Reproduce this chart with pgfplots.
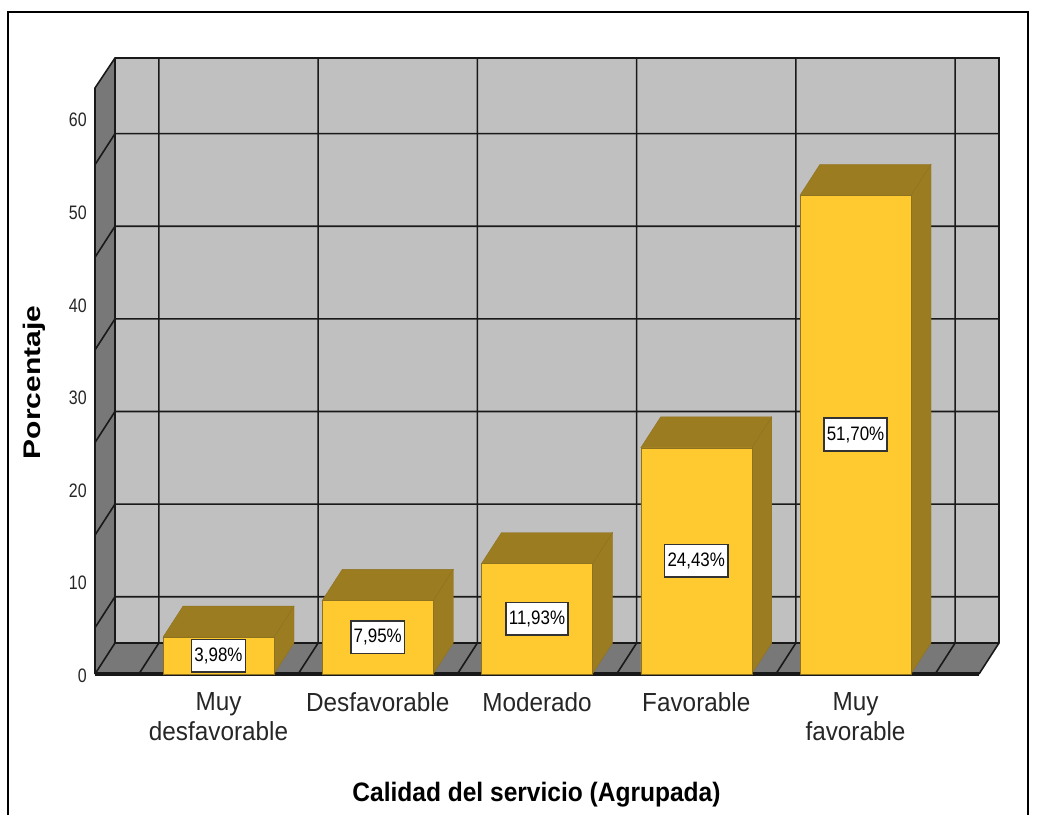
\documentclass[border=0pt]{standalone}
\usepackage{pgfplots}
\pgfplotsset{compat=1.18}
\usepackage{pgfplotstable}
\usepackage{fontspec}
\setmainfont{Liberation Sans}
\newfontfamily\ticksf[FakeStretch=0.82]{Liberation Sans}
\newfontfamily\valsf[FakeStretch=0.87]{Liberation Sans}
\newfontfamily\catsf[FakeStretch=0.93]{Liberation Sans}
\newfontfamily\xlabsf[FakeStretch=0.92]{Liberation Sans}
\newfontfamily\ylabsf[FakeStretch=1.25]{Liberation Sans}
\definecolor{wall}{HTML}{C0C0C0}
\definecolor{side}{HTML}{787878}
\definecolor{barf}{HTML}{FFCA2F}
\definecolor{bard}{HTML}{9C7C20}
\definecolor{barl}{HTML}{8F7220}
\pgfplotstableread{
x y
1 3.98
2 7.95
3 11.93
4 24.43
5 51.70
}\bardata
\begin{document}
\begin{tikzpicture}
\useasboundingbox (0,0) rectangle (778.5pt,611.25pt);
\draw[line width=1.2pt,black] (6pt,0) -- (6pt,602.25pt) -- (771pt,602.25pt) -- (771pt,0);
\begin{axis}[
  at={(71.25pt,105.75pt)},anchor=south west,
  scale only axis,width=663pt,height=439.5pt,
  xmin=0.2245,xmax=5.7755,ymin=0,ymax=63.283,
  clip=false,
  axis line style={draw=none},
  major tick length=0pt,
  tick style={draw=none},
  xtick={1,2,3,4,5},
  xticklabels={{Muy\\desfavorable},{Desfavorable},{Moderado},{Favorable},{Muy\\favorable}},
  ytick={0,10,20,30,40,50,60},
  /pgf/number format/assume math mode=true,
  y tick label style={font=\fontsize{14.6pt}{16pt}\selectfont\ticksf,text=black!85,anchor=east,xshift=-6pt,yshift=-1.4pt,inner sep=0pt},
  x tick label style={font=\fontsize{19.6pt}{22.5pt}\selectfont\catsf,text=black!85,align=center,anchor=north,yshift=-14pt,inner sep=0pt},
  xlabel={Calidad del servicio (Agrupada)},
  ylabel={Porcentaje},
  xlabel style={at={(axis description cs:0.4994,-0.2055)},anchor=center,inner sep=0pt,font=\fontsize{20pt}{22pt}\selectfont\bfseries\xlabsf},
  ylabel style={at={(axis description cs:-0.0685,0.4975)},anchor=center,inner sep=0pt,font=\fontsize{18pt}{22pt}\selectfont\bfseries\ylabsf},
]
% walls and floor
\addplot[fill=wall,draw=none] coordinates {(0.3501,3.348)(5.9011,3.348)(5.9011,66.52)(0.3501,66.52)} --cycle;
\addplot[fill=side,draw=none] coordinates {(0.2245,0)(0.3501,3.348)(0.3501,66.52)(0.2245,63.283)} --cycle;
\addplot[fill=side,draw=none] coordinates {(0.2245,0)(5.7755,0)(5.9011,3.348)(0.3501,3.348)} --cycle;
% horizontal grid: wall and back
\addplot[black!90,line width=1.2pt] coordinates {(0.2245,5)(0.3501,8.348)(5.9011,8.348)};
\addplot[black!90,line width=1.2pt] coordinates {(0.2245,15)(0.3501,18.348)(5.9011,18.348)};
\addplot[black!90,line width=1.2pt] coordinates {(0.2245,25)(0.3501,28.348)(5.9011,28.348)};
\addplot[black!90,line width=1.2pt] coordinates {(0.2245,35)(0.3501,38.348)(5.9011,38.348)};
\addplot[black!90,line width=1.2pt] coordinates {(0.2245,45)(0.3501,48.348)(5.9011,48.348)};
\addplot[black!90,line width=1.2pt] coordinates {(0.2245,55)(0.3501,58.348)(5.9011,58.348)};
% vertical grid: floor and back
\addplot[black!90,line width=1.2pt] coordinates {(0.5,0)(0.6256,3.348)(0.6256,66.52)};
\addplot[black!90,line width=1.2pt] coordinates {(1.5,0)(1.6256,3.348)(1.6256,66.52)};
\addplot[black!90,line width=1.2pt] coordinates {(2.5,0)(2.6256,3.348)(2.6256,66.52)};
\addplot[black!90,line width=1.2pt] coordinates {(3.5,0)(3.6256,3.348)(3.6256,66.52)};
\addplot[black!90,line width=1.2pt] coordinates {(4.5,0)(4.6256,3.348)(4.6256,66.52)};
\addplot[black!90,line width=1.2pt] coordinates {(5.5,0)(5.6256,3.348)(5.6256,66.52)};
% frame
\addplot[black!90,line width=1.2pt] coordinates {(0.2245,0)(0.2245,63.283)(0.3501,66.52)(5.9011,66.52)(5.9011,3.348)(5.7755,0)};
\addplot[black!90,line width=1.2pt] coordinates {(0.2245,0)(0.3501,3.348)(5.9011,3.348)};
\addplot[black!90,line width=1.4pt] coordinates {(0.3501,3.348)(0.3501,66.52)};
\addplot[black!90,line width=2.4pt] coordinates {(0.2245,0)(5.7755,0)};
% bars: side and top faces
\addplot[fill=bard,draw=barl,line width=0.3pt] coordinates {(1.3485,0)(1.4741,3.348)(1.4741,7.328)(1.3485,3.98)} --cycle;
\addplot[fill=bard,draw=barl,line width=0.3pt] coordinates {(0.6515,3.98)(0.7771,7.328)(1.4741,7.328)(1.3485,3.98)} --cycle;
\addplot[fill=bard,draw=barl,line width=0.3pt] coordinates {(2.3485,0)(2.4741,3.348)(2.4741,11.298)(2.3485,7.95)} --cycle;
\addplot[fill=bard,draw=barl,line width=0.3pt] coordinates {(1.6515,7.95)(1.7771,11.298)(2.4741,11.298)(2.3485,7.95)} --cycle;
\addplot[fill=bard,draw=barl,line width=0.3pt] coordinates {(3.3485,0)(3.4741,3.348)(3.4741,15.278)(3.3485,11.93)} --cycle;
\addplot[fill=bard,draw=barl,line width=0.3pt] coordinates {(2.6515,11.93)(2.7771,15.278)(3.4741,15.278)(3.3485,11.93)} --cycle;
\addplot[fill=bard,draw=barl,line width=0.3pt] coordinates {(4.3485,0)(4.4741,3.348)(4.4741,27.778)(4.3485,24.43)} --cycle;
\addplot[fill=bard,draw=barl,line width=0.3pt] coordinates {(3.6515,24.43)(3.7771,27.778)(4.4741,27.778)(4.3485,24.43)} --cycle;
\addplot[fill=bard,draw=barl,line width=0.3pt] coordinates {(5.3485,0)(5.4741,3.348)(5.4741,55.048)(5.3485,51.70)} --cycle;
\addplot[fill=bard,draw=barl,line width=0.3pt] coordinates {(4.6515,51.70)(4.7771,55.048)(5.4741,55.048)(5.3485,51.70)} --cycle;
% bars: front faces
\addplot[ybar,bar width=0.697,fill=barf,draw=barl,line width=0.3pt] table[x=x,y=y] {\bardata};
% value labels
\tikzset{vl/.style={fill=white,draw=black!80,line width=1.2pt,inner ysep=0pt,inner xsep=2.2pt,minimum height=24.5pt,font=\fontsize{14.6pt}{16pt}\selectfont\valsf}}
\node[vl] at (axis cs:1,1.95) {3,98\%};
\node[vl] at (axis cs:2,3.975) {7,95\%};
\node[vl] at (axis cs:3,5.965) {11,93\%};
\node[vl] at (axis cs:4,12.215) {24,43\%};
\node[vl] at (axis cs:5,25.85) {51,70\%};
\end{axis}
\end{tikzpicture}
\end{document}
